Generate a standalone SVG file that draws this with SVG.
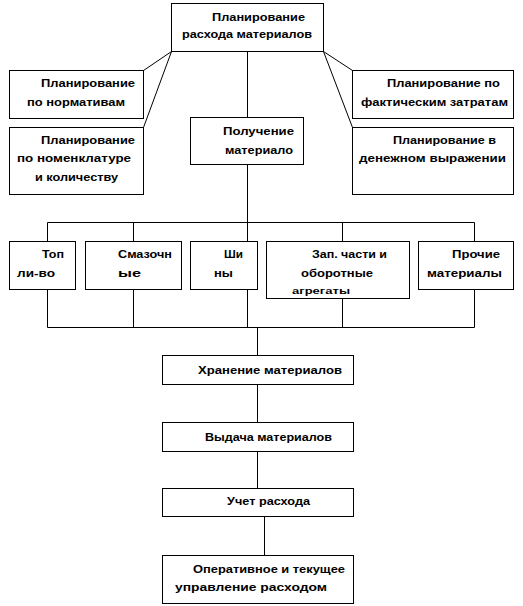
<svg xmlns="http://www.w3.org/2000/svg" width="523" height="606" viewBox="0 0 523 606">
<style>
rect.b{fill:#fff;stroke:#000;stroke-width:1}
#connectors line{stroke:#000;stroke-width:1}
text{font-family:"Liberation Sans",Arial,sans-serif;font-weight:bold;font-size:11.5px;fill:#000}
text.s{font-size:9px}
</style>
<rect width="523" height="606" fill="#fff"/>
<g id="connectors">
<line x1="171.5" y1="51.5" x2="143.5" y2="70.5"/>
<line x1="171.5" y1="51.5" x2="143.5" y2="127.5"/>
<line x1="323.5" y1="51.5" x2="352.5" y2="70.5"/>
<line x1="323.5" y1="51.5" x2="352.5" y2="127.5"/>
<line x1="247.5" y1="51.5" x2="247.5" y2="117.5"/>
<line x1="247.5" y1="164.5" x2="247.5" y2="241.5"/>
<line x1="47.5" y1="222.5" x2="474.5" y2="222.5"/>
<line x1="47.5" y1="222.5" x2="47.5" y2="241.5"/>
<line x1="133.5" y1="222.5" x2="133.5" y2="241.5"/>
<line x1="342.5" y1="222.5" x2="342.5" y2="241.5"/>
<line x1="474.5" y1="222.5" x2="474.5" y2="241.5"/>
<line x1="47.5" y1="289.5" x2="47.5" y2="327.5"/>
<line x1="133.5" y1="289.5" x2="133.5" y2="327.5"/>
<line x1="247.5" y1="289.5" x2="247.5" y2="327.5"/>
<line x1="342.5" y1="298.5" x2="342.5" y2="327.5"/>
<line x1="474.5" y1="289.5" x2="474.5" y2="327.5"/>
<line x1="47.5" y1="327.5" x2="474.5" y2="327.5"/>
<line x1="257.5" y1="327.5" x2="257.5" y2="355.5"/>
<line x1="257.5" y1="384.5" x2="257.5" y2="422.5"/>
<line x1="257.5" y1="451.5" x2="257.5" y2="488.5"/>
<line x1="264.5" y1="516.5" x2="264.5" y2="555.5"/>
</g>
<g id="n-top">
<rect class="b" x="171.5" y="3.5" width="152" height="48"/>
<text x="212" y="21" textLength="93" lengthAdjust="spacingAndGlyphs">Планирование</text>
<text x="182" y="38" textLength="130" lengthAdjust="spacingAndGlyphs">расхода материалов</text>
</g>
<g id="n-norm">
<rect class="b" x="9.5" y="70.5" width="134" height="48"/>
<text x="41" y="87" textLength="94" lengthAdjust="spacingAndGlyphs">Планирование</text>
<text x="27" y="106" textLength="98" lengthAdjust="spacingAndGlyphs">по нормативам</text>
</g>
<g id="n-nomen">
<rect class="b" x="9.5" y="127.5" width="134" height="67"/>
<text x="41" y="144" textLength="94" lengthAdjust="spacingAndGlyphs">Планирование</text>
<text x="17" y="162" textLength="114" lengthAdjust="spacingAndGlyphs">по номенклатуре</text>
<text x="35" y="181" textLength="83" lengthAdjust="spacingAndGlyphs">и количеству</text>
</g>
<g id="n-poluch">
<rect class="b" x="190.5" y="117.5" width="113" height="47"/>
<text x="223" y="135" textLength="71" lengthAdjust="spacingAndGlyphs">Получение</text>
<text x="225" y="154" textLength="68" lengthAdjust="spacingAndGlyphs">материало</text>
</g>
<g id="n-fakt">
<rect class="b" x="352.5" y="70.5" width="161" height="48"/>
<text x="387" y="87" textLength="113" lengthAdjust="spacingAndGlyphs">Планирование по</text>
<text x="361" y="106" textLength="147" lengthAdjust="spacingAndGlyphs">фактическим затратам</text>
</g>
<g id="n-den">
<rect class="b" x="352.5" y="127.5" width="161" height="67"/>
<text x="393" y="144" textLength="103" lengthAdjust="spacingAndGlyphs">Планирование в</text>
<text x="359" y="162" textLength="147" lengthAdjust="spacingAndGlyphs">денежном выражении</text>
</g>
<g id="n-topl">
<rect class="b" x="9.5" y="241.5" width="66" height="48"/>
<text x="42" y="258" textLength="22" lengthAdjust="spacingAndGlyphs">Топ</text>
<text x="17" y="277" textLength="38" lengthAdjust="spacingAndGlyphs">ли-во</text>
</g>
<g id="n-smaz">
<rect class="b" x="85.5" y="241.5" width="96" height="48"/>
<text x="118" y="258" textLength="54" lengthAdjust="spacingAndGlyphs">Смазочн</text>
<text x="118" y="277" textLength="23" lengthAdjust="spacingAndGlyphs">ые</text>
</g>
<g id="n-shiny">
<rect class="b" x="190.5" y="241.5" width="67" height="48"/>
<text x="224" y="258" textLength="19" lengthAdjust="spacingAndGlyphs">Ши</text>
<text x="214" y="277" textLength="19" lengthAdjust="spacingAndGlyphs">ны</text>
</g>
<g id="n-zap">
<rect class="b" x="266.5" y="241.5" width="143" height="57"/>
<text x="312" y="258" textLength="75" lengthAdjust="spacingAndGlyphs">Зап. части и</text>
<text x="301" y="277" textLength="72" lengthAdjust="spacingAndGlyphs">оборотные</text>
<text class="s" x="292" y="294" textLength="58" lengthAdjust="spacingAndGlyphs">агрегаты</text>
</g>
<g id="n-proch">
<rect class="b" x="418.5" y="241.5" width="95" height="48"/>
<text x="452" y="258" textLength="48" lengthAdjust="spacingAndGlyphs">Прочие</text>
<text x="427" y="277" textLength="75" lengthAdjust="spacingAndGlyphs">материалы</text>
</g>
<g id="n-hran">
<rect class="b" x="162.5" y="355.5" width="191" height="29"/>
<text x="198" y="374" textLength="144" lengthAdjust="spacingAndGlyphs">Хранение материалов</text>
</g>
<g id="n-vyd">
<rect class="b" x="162.5" y="422.5" width="191" height="29"/>
<text x="205" y="441" textLength="127" lengthAdjust="spacingAndGlyphs">Выдача материалов</text>
</g>
<g id="n-uchet">
<rect class="b" x="162.5" y="488.5" width="191" height="28"/>
<text x="227" y="505" textLength="83" lengthAdjust="spacingAndGlyphs">Учет расхода</text>
</g>
<g id="n-oper">
<rect class="b" x="162.5" y="555.5" width="191" height="48"/>
<text x="193" y="573" textLength="152" lengthAdjust="spacingAndGlyphs">Оперативное и текущее</text>
<text x="175" y="591" textLength="152" lengthAdjust="spacingAndGlyphs">управление расходом</text>
</g>
</svg>
